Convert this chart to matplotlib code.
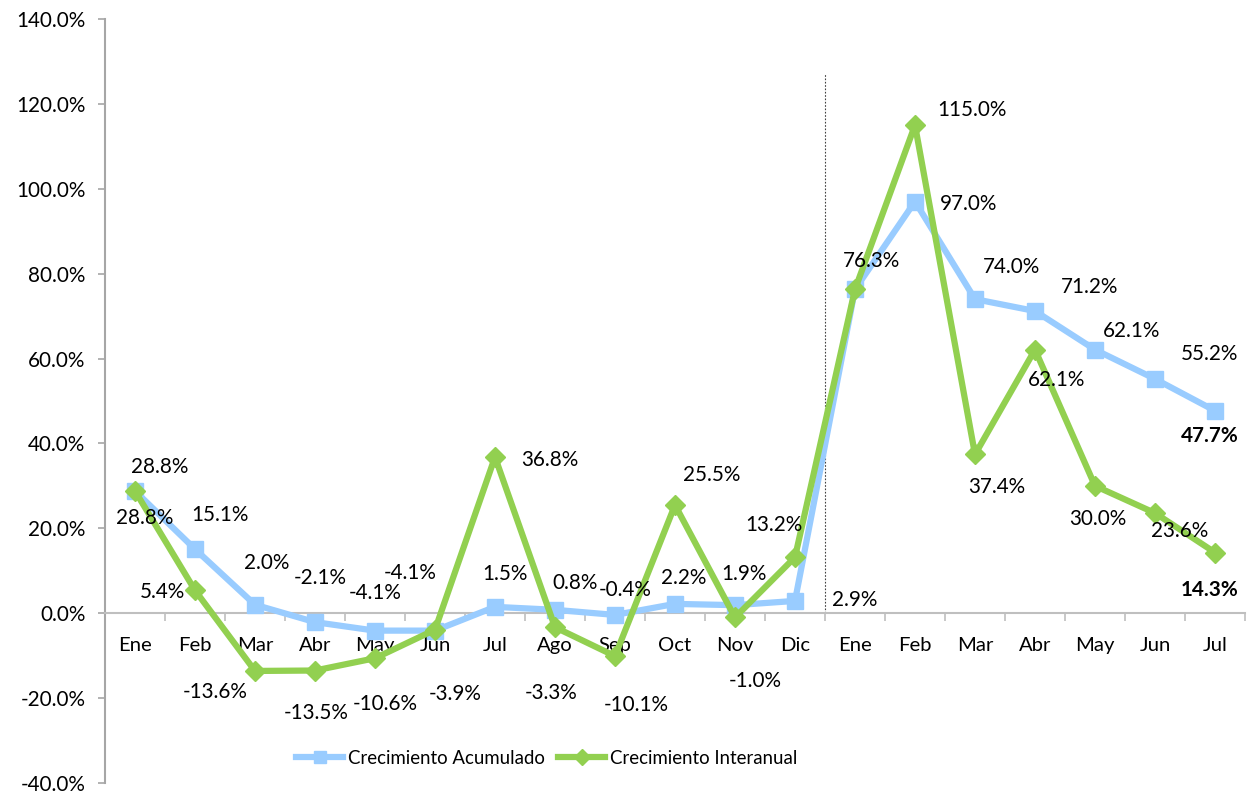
import matplotlib
matplotlib.use("Agg")
import matplotlib.pyplot as plt
from matplotlib.ticker import FuncFormatter, FixedLocator

plt.rcParams['font.family'] = ['Lato', 'DejaVu Sans']

months = ["Ene", "Feb", "Mar", "Abr", "May", "Jun", "Jul", "Ago", "Sep", "Oct", "Nov", "Dic",
          "Ene", "Feb", "Mar", "Abr", "May", "Jun", "Jul"]
acumulado = [28.8, 15.1, 2.0, -2.1, -4.1, -4.1, 1.5, 0.8, -0.4, 2.2, 1.9, 2.9,
             76.3, 97.0, 74.0, 71.2, 62.1, 55.2, 47.7]
interanual = [28.8, 5.4, -13.6, -13.5, -10.6, -3.9, 36.8, -3.3, -10.1, 25.5, -1.0, 13.2,
              76.3, 115.0, 37.4, 62.1, 30.0, 23.6, 14.3]
yticks = [-40, -20, 0, 20, 40, 60, 80, 100, 120, 140]

# label offsets in pixels (dx, dy) relative to each point (screen coords, y up)
off_acu = [(25, 24), (25, 34), (12, 42), (5, 44), (0, 38), (-25, 58), (10, 33), (20, 27),
           (10, 25), (9, 26), (9, 31), (60, 1), (17, 28), (54, -2), (37, 32), (55, 24),
           (37, 19), (55, 25), (-5, -25)]
off_int = [(10, -27), (-33, -2), (-40, -21), (1, -42), (10, -46), (20, -64), (55, -3),
           (-4, -66), (21, -49), (37, 30), (20, -64), (-21, 32), None, (57, 15),
           (22, -33), (22, -30), (3, -33), (25, -18), (-5, -37)]

W, H = 1247, 793
fig = plt.figure(figsize=(W / 100, H / 100), dpi=100)
ax = fig.add_axes([105 / W, 1 - 783 / H, 1140 / W, 764 / H])

x = list(range(len(months)))
blue = "#99CCFF"
green = "#92D050"
ax.plot(x, acumulado, color=blue, lw=4.5, marker="s", ms=11, mec=blue, mfc=blue,
        label="Crecimiento Acumulado", zorder=3)
ax.plot(x, interanual, color=green, lw=4.5, marker="D", ms=10.5, mec=green, mfc=green,
        label="Crecimiento Interanual", zorder=4)

ax.set_xlim(-0.5, len(months) - 0.5)
ax.set_ylim(-40, 140)

# dotted separator between years
ax.plot([11.5, 11.5], [0, 127], color="#404040", lw=0.8, ls=(0, (1.5, 1.5)), zorder=2)

fs_num = 14.9
last = len(months) - 1
for i, v in enumerate(acumulado):
    dx, dy = off_acu[i]
    ax.annotate(f"{v:.1f}%", (i, v), xytext=(dx, dy), textcoords="offset pixels",
                ha="center", va="center", fontsize=fs_num,
                fontweight="bold" if i == last else "normal", zorder=5)
for i, v in enumerate(interanual):
    if off_int[i] is None:
        continue
    dx, dy = off_int[i]
    ax.annotate(f"{v:.1f}%", (i, v), xytext=(dx, dy), textcoords="offset pixels",
                ha="center", va="center", fontsize=fs_num,
                fontweight="bold" if i == last else "normal", zorder=5)

# axes styling
for s in ["top", "right"]:
    ax.spines[s].set_visible(False)
ax.spines["bottom"].set_position(("data", 0))
ax.spines["bottom"].set_color("#BFBFBF")
ax.spines["bottom"].set_linewidth(1.5)
ax.spines["left"].set_color("#A6A6A6")
ax.spines["left"].set_linewidth(1.5)

ax.set_yticks(yticks)
ax.yaxis.set_major_formatter(FuncFormatter(lambda v, p: f"{v:.1f}%"))
ax.tick_params(axis="y", length=5, width=1.2, color="#A6A6A6", pad=9, labelsize=fs_num)

ax.set_xticks(x)
ax.set_xticklabels(months)
ax.xaxis.set_minor_locator(FixedLocator([i - 0.5 for i in range(len(months) + 1)]))
ax.tick_params(axis="x", which="major", length=0, pad=17, labelsize=14.6)
ax.tick_params(axis="x", which="minor", length=6, width=1.2, color="#BFBFBF", direction="out")

leg = ax.legend(loc="center", bbox_to_anchor=((547 - 105) / 1140, 1 - (758 - 19) / 764),
                ncol=2, frameon=False, fontsize=13.4, handlelength=2.5, handletextpad=0.3,
                columnspacing=0.7, markerscale=0.75)

fig.savefig("out.png", dpi=100)
